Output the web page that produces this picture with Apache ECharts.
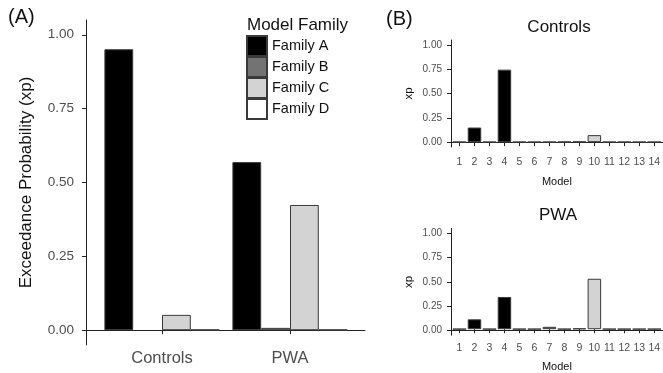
<!DOCTYPE html>
<html>
<head>
<meta charset="utf-8">
<script src="https://cdn.jsdelivr.net/npm/echarts@6/dist/echarts.min.js"></script>
<style>html,body{margin:0;padding:0;background:#fff}#c{width:663px;height:373px}</style>
</head>
<body>
<div id="c"></div>
<script>
// ---- data ----
const groups = ['Controls', 'PWA'];
const families = ['Family A', 'Family B', 'Family C', 'Family D'];
const familyA = [0.951, 0.569];
const familyB = [null, 0.008];
const familyC = [0.052, 0.424];
const familyD = [0.002, 0.002];
const models = ['1','2','3','4','5','6','7','8','9','10','11','12','13','14'];
const modelFamily = [0,0,0,0,1,1,1,1,1,2,2,2,3,3];
const controlsXp = [0.002, 0.150, 0.002, 0.745, 0.002, 0.002, 0.002, 0.004, 0.006, 0.072, 0.002, 0.002, 0.002, 0.002];
const pwaXp = [0.002, 0.103, 0.002, 0.336, 0.002, 0.002, 0.025, 0.002, 0.008, 0.526, 0.002, 0.002, 0.002, 0.002];
const yTicks = [0, 0.25, 0.5, 0.75, 1];

// ---- style ----
const FONT = '"Liberation Sans", Arial, Helvetica, sans-serif';
const famColors = ['#000000', '#737373', '#d3d3d3', '#ffffff'];
const BORDER = '#3a3a3a';
const AXIS = '#222222';
const TXT = '#4d4d4d';

const chart = echarts.init(document.getElementById('c'));

function decorGrid(left, right, top, bottom) {
  return {left, right, top, bottom, containLabel: false};
}
function decorX(gi) {
  return {type: 'value', gridIndex: gi, min: 0, max: 1,
    axisLine: {show: true, lineStyle: {color: AXIS, width: 1}},
    axisTick: {show: false}, axisLabel: {show: false}, splitLine: {show: false}};
}
function decorY(gi, fs, margin, name, nameFs, nameGap) {
  return {type: 'value', gridIndex: gi, min: -0.05, max: 1.05,
    axisLine: {show: true, lineStyle: {color: AXIS, width: 1}},
    axisTick: {show: true, customValues: yTicks, length: 4, lineStyle: {color: AXIS}},
    axisLabel: {show: true, customValues: yTicks, margin: margin, fontSize: fs, color: TXT, fontFamily: FONT,
      formatter: v => Number(v).toFixed(2)},
    splitLine: {show: false},
    name: name, nameLocation: 'middle', nameGap: nameGap,
    nameTextStyle: {fontSize: nameFs, color: '#111', fontFamily: FONT}};
}
function barX(gi, data, fs, margin, name, nameGap) {
  return {type: 'category', gridIndex: gi, data: data,
    axisLine: {show: false},
    axisTick: {show: true, alignWithLabel: true, length: 4, lineStyle: {color: AXIS}},
    axisLabel: {fontSize: fs, color: TXT, fontFamily: FONT, margin: margin, interval: 0},
    name: name, nameLocation: 'middle', nameGap: nameGap,
    nameTextStyle: {fontSize: 11, color: '#111', fontFamily: FONT}};
}
function barY(gi) {
  return {type: 'value', gridIndex: gi, min: -0.05, max: 1.05, show: false, splitLine: {show: false}};
}

const famData = [familyA, familyB, familyC, familyD];
const seriesA = families.map((f, i) => ({
  name: f, type: 'bar', xAxisIndex: 1, yAxisIndex: 1,
  data: famData[i], barGap: '0%', barCategoryGap: '10%',
  itemStyle: {color: famColors[i], borderColor: BORDER, borderWidth: 1},
  emphasis: {disabled: true}, animation: false
}));

function modelSeries(vals, ai) {
  return {type: 'bar', xAxisIndex: ai, yAxisIndex: ai, barCategoryGap: '10%',
    data: vals.map((v, i) => ({value: v, itemStyle: {color: famColors[modelFamily[i]]}})),
    itemStyle: {borderColor: BORDER, borderWidth: 1},
    emphasis: {disabled: true}, animation: false};
}

const option = {
  animation: false,
  textStyle: {fontFamily: FONT},
  grid: [
    decorGrid(86, 298, 20, 28),
    decorGrid(98, 309, 20, 28),
    decorGrid(451, 0, 40, 226),
    decorGrid(452, -3, 40, 226),
    decorGrid(451, 0, 228.5, 37.8),
    decorGrid(452, -3, 228.5, 37.8)
  ],
  xAxis: [
    decorX(0),
    barX(1, groups, 16.5, 5, '', 0),
    decorX(2),
    barX(3, models, 10.5, 10, 'Model', 29),
    decorX(4),
    barX(5, models, 10.5, 9, 'Model', 27)
  ],
  yAxis: [
    decorY(0, 13.5, 12, 'Exceedance Probability (xp)', 17, 51),
    barY(1),
    decorY(2, 10, 9, 'xp', 11.5, 36),
    barY(3),
    decorY(4, 10, 9, 'xp', 11.5, 36),
    barY(5)
  ],
  legend: {
    data: families, orient: 'vertical', left: 246, top: 35, padding: 0,
    itemWidth: 20, itemHeight: 20, itemGap: -1, icon: 'rect',
    textStyle: {fontSize: 14.5, color: '#111', fontFamily: FONT},
    selectedMode: false
  },
  graphic: [
    {type: 'text', left: 8, top: 7, style: {text: '(A)', fontSize: 20, fill: '#111', fontFamily: FONT}},
    {type: 'text', left: 386, top: 9, style: {text: '(B)', fontSize: 20, fill: '#111', fontFamily: FONT}},
    {type: 'text', left: 247, top: 17, style: {text: 'Model Family', fontSize: 17, fill: '#111', fontFamily: FONT}},
    {type: 'text', x: 559, y: 27, style: {text: 'Controls', fontSize: 17, fill: '#111', fontFamily: FONT, align: 'center', verticalAlign: 'middle'}},
    {type: 'text', x: 558, y: 215, style: {text: 'PWA', fontSize: 17, fill: '#111', fontFamily: FONT, align: 'center', verticalAlign: 'middle'}}
  ],
  series: [
    ...seriesA,
    modelSeries(controlsXp, 3),
    modelSeries(pwaXp, 5)
  ]
};
chart.setOption(option);
</script>
</body>
</html>
